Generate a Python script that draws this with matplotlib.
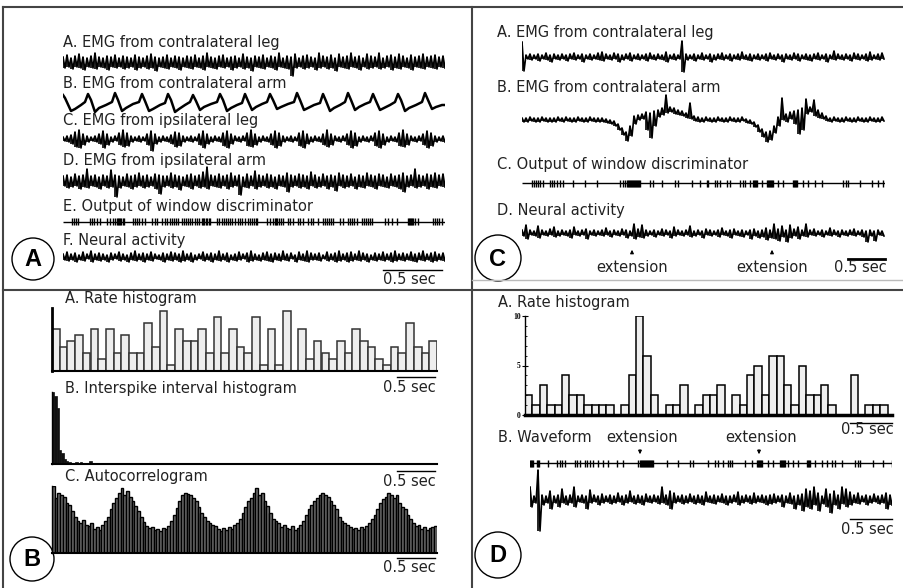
import numpy as np
import matplotlib.pyplot as plt
from matplotlib.patches import Circle

W, H = 904, 588

# ---------------- panel A : EMG traces (values in px, 4 px per sample) ----------------
legA_top = [5, 7, 4, 6, 8, 5, 4, 6, 9, 5,
            4, 6, 5, 7, 4, 6, 5, 4, 7, 5,
            4, 6, 8, 5, 4, 5, 7, 4, 6, 5,
            4, 6, 5, 7, 4, 6, 9, 5, 4, 6,
            7, 4, 5, 6, 4, 8, 5, 4, 6, 5,
            7, 4, 6, 5, 9, 4, 6, 5, 8, 4,
            6, 7, 5, 4, 9, 6, 5, 7, 4, 8,
            5, 6, 9, 5, 6, 4, 8, 6, 5, 9,
            4, 6, 7, 5, 8, 6, 4, 7, 5, 6,
            8, 5, 6, 7, 5, 6]
legA_bot = [-6, -5, -7, -5, -6, -8, -5, -6, -7, -5,
            -6, -8, -5, -6, -5, -7, -6, -5, -8, -6,
            -5, -7, -6, -9, -5, -6, -7, -5, -6, -8,
            -5, -6, -7, -5, -6, -8, -5, -6, -7, -5,
            -6, -5, -8, -6, -5, -7, -6, -9, -5, -6,
            -7, -5, -6, -8, -5, -6, -7, -14, -6, -5,
            -7, -6, -5, -8, -6, -5, -7, -6, -9, -5,
            -6, -7, -5, -6, -8, -5, -7, -6, -5, -7,
            -6, -5, -8, -6, -7, -5, -6, -8, -5, -6,
            -7, -5, -6, -7, -5, -6]

# contralateral arm: breakpoints (px from trace start, px above baseline)
armA_x = [0, 2, 8, 12, 18, 22, 25, 28, 32, 36, 43, 49, 52, 55, 59, 63, 70, 76,
          79, 82, 86, 90, 97, 102, 105, 108, 112, 116, 122, 127, 130, 133, 137, 141, 148, 154,
          157, 160, 164, 168, 174, 179, 182, 185, 189, 193, 199, 204, 207, 210, 214, 218, 225, 231,
          234, 237, 241, 245, 251, 257, 260, 263, 267, 271, 277, 282, 285, 288, 292, 296, 302, 307,
          310, 313, 317, 321, 327, 332, 335, 338, 342, 346, 353, 359, 362, 365, 369, 373, 379, 382]
armA_y = [8, 5, -8, -6, -2, 1, 9, 3, -9, -5, -2, 1, 10, 3, -8, -5, -1, 1,
          9, 2, -8, -6, -2, 0, 9, 3, -9, -6, -2, 1, 8, 2, -7, -4, -1, 1,
          9, 3, -8, -5, -2, 0, 9, 2, -7, -4, -1, 1, 9, 3, -6, -4, -1, 1,
          10, 3, -7, -5, -2, 0, 9, 2, -8, -5, -2, 1, 10, 3, -7, -4, -1, 1,
          9, 2, -7, -5, -2, 1, 9, 3, -8, -5, -2, 1, 10, 3, -6, -4, -2, -2]

ipsileg_top = [2, 3, 4, 7, 9, 5, 3, 2, 3, 5,
               8, 5, 2, 3, 6, 9, 6, 3, 2, 3,
               2, 5, 8, 5, 2, 3, 2, 4, 7, 6,
               3, 2, 3, 2, 5, 8, 5, 2, 3, 2,
               6, 8, 5, 3, 2, 3, 6, 9, 5, 2,
               3, 2, 5, 8, 6, 3, 2, 3, 2, 6,
               8, 5, 2, 3, 2, 5, 9, 5, 3, 2,
               3, 5, 8, 6, 2, 3, 2, 3, 6, 8,
               5, 2, 3, 2, 6, 9, 5, 3, 2, 3,
               5, 8, 6, 3, 2, 3]
ipsileg_bot = [-2, -3, -5, -8, -9, -6, -3, -2, -3, -5,
               -9, -6, -3, -2, -6, -8, -7, -3, -2, -3,
               -2, -6, -12, -5, -3, -2, -3, -5, -8, -7,
               -3, -2, -3, -2, -6, -9, -5, -3, -2, -3,
               -7, -9, -5, -2, -3, -2, -7, -8, -6, -3,
               -2, -3, -6, -9, -7, -3, -2, -3, -2, -7,
               -9, -5, -3, -2, -3, -6, -8, -6, -2, -3,
               -2, -6, -9, -7, -3, -2, -3, -2, -7, -9,
               -6, -3, -2, -3, -7, -8, -6, -2, -3, -2,
               -6, -9, -7, -3, -2, -3]

ipsiarm_top = [5, 6, 4, 7, 5, 6, 12, 5, 6, 4,
               6, 5, 11, 6, 5, 4, 7, 5, 6, 8,
               5, 6, 4, 7, 6, 5, 5, 8, 6, 5,
               4, 6, 7, 5, 6, 9, 14, 6, 5, 7,
               5, 6, 8, 5, 6, 4, 7, 5, 10, 6,
               5, 7, 6, 4, 6, 5, 8, 6, 5, 7,
               6, 5, 9, 6, 4, 7, 5, 6, 5, 8,
               6, 5, 7, 4, 6, 5, 8, 6, 5, 7,
               6, 4, 7, 5, 6, 8, 5, 6, 12, 6,
               5, 7, 6, 8, 6, 7]
ipsiarm_bot = [-5, -7, -6, -5, -8, -6, -7, -5, -6, -8,
               -5, -7, -6, -16, -7, -5, -6, -8, -6, -5,
               -7, -6, -5, -8, -13, -6, -5, -7, -6, -9,
               -5, -6, -8, -5, -7, -6, -8, -5, -6, -7,
               -5, -8, -6, -5, -14, -6, -7, -5, -8, -6,
               -5, -7, -6, -8, -5, -6, -11, -6, -5, -7,
               -6, -8, -5, -7, -6, -5, -8, -6, -10, -5,
               -7, -6, -5, -8, -6, -7, -5, -6, -8, -5,
               -6, -7, -5, -6, -8, -11, -6, -5, -7, -6,
               -5, -8, -6, -7, -5, -6]

neuralA_top = [3, 5, 3, 4, 2, 5, 3, 6, 3, 4,
               3, 2, 4, 3, 5, 3, 2, 4, 6, 3,
               4, 3, 5, 3, 2, 4, 3, 5, 4, 3,
               6, 3, 4, 2, 3, 5, 3, 4, 3, 6,
               3, 4, 2, 3, 5, 3, 4, 6, 3, 2,
               4, 5, 3, 4, 3, 6, 3, 4, 2, 5,
               3, 6, 4, 3, 4, 2, 5, 3, 4, 6,
               3, 4, 5, 3, 6, 4, 3, 2, 4, 3,
               5, 3, 4, 6, 3, 4, 3, 5, 3, 4,
               6, 3, 4, 5, 3, 4]
neuralA_bot = [-3, -4, -3, -5, -3, -4, -2, -5, -3, -4,
               -3, -5, -3, -2, -4, -3, -5, -3, -4, -3,
               -5, -3, -4, -2, -3, -5, -3, -4, -3, -5,
               -4, -3, -5, -3, -2, -4, -3, -5, -3, -4,
               -3, -5, -3, -4, -3, -2, -5, -4, -3, -4,
               -3, -4, -5, -3, -4, -3, -4, -2, -5, -3,
               -4, -5, -3, -3, -4, -2, -4, -3, -5, -4,
               -3, -5, -4, -3, -4, -3, -5, -3, -4, -3,
               -4, -3, -5, -4, -3, -4, -3, -4, -5, -3,
               -4, -3, -5, -4, -3, -4]

# window discriminator spikes (px from trace start)
spikesA = [9, 11, 13, 15, 27, 29, 31, 34, 37, 44, 47, 50, 52, 54, 55, 56, 57, 58, 60, 61,
           70, 72, 74, 76, 79, 82, 89, 92, 94, 99, 102, 104, 107, 109, 111, 113, 115,
           119, 121, 123, 125, 127, 129, 132, 134, 136, 139, 140, 141, 143, 144, 146, 147,
           154, 156, 159, 161, 163, 165, 167, 169, 172, 175, 177, 179, 182,
           185, 187, 189, 191, 193, 194, 204, 207, 210, 212, 213, 214, 216, 218, 220,
           225, 227, 230, 235, 237, 240, 245, 248, 250, 255, 260, 262, 264, 266, 268, 270,
           277, 280, 285, 287, 289, 291, 294, 299, 301, 303, 305, 307, 309, 322, 325, 329, 334,
           345, 346, 347, 348, 349, 350, 352, 355, 370, 372, 374, 376, 379]

# ---------------- panel C ----------------
legC_top = [15, 2, 3, 2, 3, 2, 4, 2, 3, 2,
            3, 2, 3, 4, 2, 3, 2, 3, 2, 4,
            5, 3, 2, 4, 3, 2, 3, 4, 2, 3,
            2, 3, 4, 2, 3, 2, 5, 2, 3, 2,
            16, 3, 2, 3, 2, 4, 2, 3, 2, 3,
            4, 2, 3, 2, 3, 5, 2, 3, 2, 3,
            2, 3, 4, 2, 3, 2, 3, 2, 4, 3,
            2, 3, 2, 3, 4, 2, 3, 2, 6, 3,
            2, 3, 2, 4, 3, 2, 3, 5, 2, 3,
            4]
legC_bot = [-14, -2, -3, -2, -4, -2, -3, -5, -2, -3,
            -2, -4, -2, -3, -2, -5, -2, -3, -2, -3,
            -4, -2, -3, -2, -5, -3, -2, -4, -2, -3,
            -2, -4, -2, -3, -2, -3, -5, -2, -3, -2,
            -15, -3, -2, -4, -2, -3, -2, -5, -3, -2,
            -3, -2, -4, -2, -3, -2, -3, -4, -2, -3,
            -2, -4, -2, -3, -2, -5, -2, -3, -2, -4,
            -2, -3, -4, -2, -3, -2, -5, -2, -3, -2,
            -3, -2, -4, -2, -3, -2, -4, -3, -2, -3,
            -2]

armC_top = [2, 2, 3, 2, 2, 3, 2, 2, 2, 3, 2, 3, 2, 2, 3, 2, 2, 3, 2, 2, 2,
            1, 0, -1, -4, -8, -12, -6, 4, 5, 6, 8, 7, 9, 10, 12, 25, 13, 12, 10, 9, 7, 17, 4, 3,
            2, 3, 2, 2, 3, 2, 2, 3, 2, 2, 3,
            1, 0, -2, -5, -9, -12, -11, -6, 3, 22, 6, 8, 9, 10, 12, 21, 13, 20, 10, 7, 4,
            2, 3, 2, 2, 3, 2, 2, 3, 2, 2, 3, 2, 2, 3]
armC_bot = [-2, -2, -1, -2, -2, -1, -2, -2, -2, -1, -2, -1, -2, -2, -1, -2, -2, -1, -2, -2, -2,
            -3, -4, -6, -10, -15, -21, -16, -4, 0, 1, -10, -18, -6, 3, 5, 7, 8, 6, 5, 4, 2, 1, -1, -2,
            -2, -1, -2, -2, -1, -2, -2, -1, -2, -2, -1,
            -3, -4, -7, -12, -17, -22, -20, -13, -6, 0, -2, 1, -4, -14, -10, 6, 8, 4, 2, 1, -1,
            -2, -1, -2, -2, -1, -2, -2, -1, -2, -2, -1, -2, -2, -1]

spikesC = [10, 12, 14, 16, 18, 21, 28, 30, 32, 35, 38, 41, 51, 63, 75, 98, 101, 103, 105,
           106, 107, 108, 109, 110, 111, 112, 113, 114, 115, 116, 117, 118, 128, 131, 140,
           153, 156, 170, 178, 185, 186, 193, 195, 198, 205, 208, 218, 221, 223, 228,
           231, 232, 233, 234, 235, 240, 245, 246, 247, 248, 249, 250, 251, 256, 261,
           271, 272, 273, 274, 275, 281, 286, 293, 300, 321, 324, 326, 338, 350, 356, 361]

neuralC_top = [3, 8, 3, 2, 7, 3, 2, 4, 6, 2,
               3, 2, 3, 6, 2, 3, 4, 2, 3, 2,
               3, 5, 2, 3, 2, 4, 3, 2, 9, 4,
               8, 3, 2, 3, 2, 4, 3, 2, 6, 3,
               2, 3, 7, 2, 3, 2, 4, 3, 2, 3,
               5, 2, 3, 4, 2, 3, 2, 3, 4, 2,
               3, 5, 3, 9, 4, 7, 3, 8, 4, 6,
               3, 9, 3, 4, 2, 3, 2, 5, 3, 2,
               3, 2, 3, 4, 2, 3, 2, 3, 2, 3,
               2]
neuralC_bot = [-3, -6, -2, -3, -5, -2, -3, -2, -4, -3,
               -2, -3, -5, -2, -3, -2, -6, -2, -3, -2,
               -3, -2, -4, -2, -3, -2, -5, -3, -6, -4,
               -5, -3, -2, -4, -2, -3, -2, -5, -3, -2,
               -3, -2, -4, -3, -2, -5, -2, -3, -2, -4,
               -2, -3, -5, -2, -3, -4, -2, -6, -3, -5,
               -4, -7, -5, -6, -8, -4, -9, -5, -3, -6,
               -3, -4, -2, -3, -2, -4, -2, -3, -2, -4,
               -2, -3, -2, -3, -2, -4, -9, -3, -8, -2,
               -3]

# ---------------- panel B : histograms ----------------
rate_B = [42, 24, 30, 36, 18, 42, 12, 42, 18, 36,
          18, 18, 48, 24, 60, 6, 42, 30, 30, 42,
          18, 54, 18, 42, 24, 18, 54, 6, 42, 6,
          60, 0, 42, 12, 30, 18, 12, 30, 18, 42,
          30, 24, 12, 6, 24, 18, 48, 24, 18, 30]
isi_B = [72, 68, 56, 14, 11, 5, 3, 2, 1, 1, 2, 1, 2, 1, 1, 1, 3, 1]
autocorr_B = [67, 55, 60, 58, 56, 50, 48,
              42, 36, 32, 30, 33, 28,
              27, 30, 24, 26, 23,
              28, 32, 36, 44, 50,
              55, 60, 65, 58, 62, 56,
              52, 47, 42, 36, 31,
              27, 25, 26, 23, 24, 22, 25, 24,
              27, 32, 38, 45, 52,
              58, 60, 59, 58, 55,
              52, 46, 40, 36, 32,
              30, 28, 27, 24, 22, 25, 23, 26, 24, 28,
              30, 34, 40, 46, 52,
              55, 60, 65, 58, 60,
              52, 47, 40, 34, 32,
              30, 26, 28, 25, 24, 27, 23, 25, 28,
              32, 38, 44, 48, 52,
              55, 58, 60, 58, 56,
              52, 48, 44, 36, 32,
              30, 28, 26, 24, 25, 23, 26, 24, 27, 30,
              34, 38, 44, 50, 54,
              56, 60, 58, 55, 58,
              50, 46, 44, 38, 34,
              30, 27, 28, 24, 26, 23, 25, 26, 27]

# ---------------- panel D ----------------
rate_D = [2, 1, 3, 1, 1, 4, 2, 2, 1, 1,
          1, 1, 0, 1, 4, 10, 6, 2, 0, 1,
          1, 3, 0, 1, 2, 2, 3, 0, 2, 1,
          4, 5, 2, 6, 6, 3, 1, 5, 2, 2,
          3, 1, 0, 0, 4, 0, 1, 1, 1]
spikesD = [0, 1, 2, 3, 7, 8, 9, 18, 27, 30, 32, 35, 45, 47, 50, 55, 57, 60, 63, 68, 73, 78,
           87, 93, 108, 110, 111, 112, 113, 114, 115, 116, 117, 118, 119, 120, 121, 122, 123,
           137, 148, 160, 163, 178, 185, 188, 193, 198, 200, 202, 215, 222,
           227, 228, 229, 230, 231, 232, 238, 243, 250, 251, 252, 253, 254, 255, 258, 263, 268,
           277, 278, 279, 280, 285, 292, 297, 302, 305, 312, 325, 328, 330, 343, 353, 362]
waveD_top = [12, 3, 29, 4, 3, 8, 3, 4, 10, 3,
             4, 12, 3, 4, 3, 9, 4, 3, 5, 3,
             4, 3, 6, 3, 4, 8, 3, 4, 3, 5,
             3, 4, 3, 12, 4, 8, 6, 3, 4, 3,
             5, 3, 4, 3, 7, 3, 4, 3, 5, 3,
             3, 4, 7, 3, 4, 3, 6, 3, 4, 3,
             4, 5, 3, 4, 3, 6, 3, 4, 5, 10,
             8, 12, 6, 3, 10, 5, 8, 4, 12, 10,
             7, 4, 6, 3, 4, 3, 5, 3, 4, 6,
             4]
waveD_bot = [-8, -4, -32, -6, -4, -10, -4, -8, -4, -6,
             -4, -8, -3, -4, -10, -4, -3, -6, -4, -3,
             -5, -4, -3, -6, -4, -3, -5, -4, -6, -3,
             -4, -3, -5, -4, -6, -10, -4, -3, -5, -4,
             -3, -5, -4, -6, -3, -4, -5, -3, -4, -6,
             -4, -3, -6, -4, -3, -5, -4, -3, -4, -6,
             -5, -4, -3, -8, -4, -5, -10, -6, -12, -8,
             -10, -6, -12, -5, -8, -14, -6, -10, -5, -8,
             -6, -4, -5, -3, -6, -4, -3, -5, -4, -10,
             -6]

TXT = dict(family='DejaVu Sans', fontsize=10.5, color='#222222')

fig = plt.figure(figsize=(W / 100, H / 100), dpi=100)
ax0 = fig.add_axes([0, 0, 1, 1])
ax0.set_xlim(0, W)
ax0.set_ylim(H, 0)
ax0.axis('off')


def px_axes(x0, y0, x1, y1):
    return fig.add_axes([x0 / W, 1 - y1 / H, (x1 - x0) / W, (y1 - y0) / H])


def trace_axes(x0, x1, yc, half):
    ax = px_axes(x0, yc - half, x1, yc + half)
    ax.set_xlim(0, x1 - x0)
    ax.set_ylim(-half, half)
    ax.axis('off')
    return ax


def draw_env(ax, top, bot, step=4, lw=1.2):
    xs = np.arange(len(top)) * step
    xx = np.column_stack([xs, xs + step / 2]).ravel()
    yy = np.column_stack([top, bot]).ravel()
    ax.plot(xx, yy, color='k', lw=lw)
    ax.vlines(xs, bot, top, color='k', lw=lw)


def draw_train(ax, events, length, h=3.5):
    ax.hlines(0, 0, length, color='k', lw=1)
    ax.vlines(events, -h, h, color='k', lw=1.0)


def scale_bar(x0, x1, y, tx, ty, lw=1.0):
    ax0.plot([x0, x1], [y, y], color='k', lw=lw)
    ax0.text(tx, ty, '0.5 sec', ha='center', va='center', **TXT)


def badge(x, y, r, letter):
    ax0.add_patch(Circle((x, y), r, fill=False, lw=1.0, ec='k'))
    ax0.text(x, y + 1, letter, ha='center', va='center', family='Liberation Sans',
             fontweight='bold', fontsize=17)


# frame lines
ax0.plot([3, W], [7, 7], color='#444444', lw=1.5)
ax0.plot([3, 3], [7, H], color='#444444', lw=1.5)
ax0.plot([472, 472], [7, H], color='#444444', lw=1.5)
ax0.plot([3, W], [289.5, 289.5], color='#444444', lw=1.5)
ax0.plot([472, W], [280, 280], color='#bbbbbb', lw=1.0)

# ---- panel A ----
for y, s in [(43, 'A. EMG from contralateral leg'), (84, 'B. EMG from contralateral arm'),
             (120, 'C. EMG from ipsilateral leg'), (160, 'D. EMG from ipsilateral arm'),
             (207, 'E. Output of window discriminator'), (241, 'F. Neural activity')]:
    ax0.text(63, y, s, ha='left', va='center', **TXT)

draw_env(trace_axes(63, 445, 62, 15), legA_top, legA_bot)
axb = trace_axes(63, 445, 103, 13)
axb.plot(armA_x, armA_y, color='k', lw=1.8)
draw_env(trace_axes(63, 445, 139, 13), ipsileg_top, ipsileg_bot)
draw_env(trace_axes(63, 445, 181, 17), ipsiarm_top, ipsiarm_bot)
draw_train(trace_axes(63, 445, 222, 5), spikesA, 382)
draw_env(trace_axes(63, 445, 257, 8), neuralA_top, neuralA_bot)
scale_bar(383, 442, 270, 409, 279)
badge(33, 259, 21, 'A')

# ---- panel C ----
for y, s in [(32, 'A. EMG from contralateral leg'), (88, 'B. EMG from contralateral arm'),
             (165, 'C. Output of window discriminator'), (210, 'D. Neural activity')]:
    ax0.text(497, y, s, ha='left', va='center', **TXT)
draw_env(trace_axes(522, 885, 57, 17), legC_top, legC_bot)
draw_env(trace_axes(522, 885, 120, 27), armC_top, armC_bot)
draw_train(trace_axes(522, 885, 183, 5), spikesC, 363)
draw_env(trace_axes(522, 885, 233, 14), neuralC_top, neuralC_bot)
for x in (632, 772):
    ax0.annotate('', xy=(x, 247), xytext=(x, 256),
                 arrowprops=dict(arrowstyle='-|>', lw=0.8, color='k', mutation_scale=5))
    ax0.text(x, 267, 'extension', ha='center', va='center', **TXT)
scale_bar(848, 885, 259, 860, 268, lw=2.0)
badge(498, 258, 23, 'C')

# ---- panel B ----
ax0.text(65, 299, 'A. Rate histogram', ha='left', va='center', **TXT)
ax0.text(65, 389, 'B. Interspike interval histogram', ha='left', va='center', **TXT)
ax0.text(65, 477, 'C. Autocorrelogram', ha='left', va='center', **TXT)

h1 = px_axes(52, 308, 437, 371)
h1.bar(np.arange(len(rate_B)), rate_B, width=1, align='edge', facecolor='#eeeeee',
       edgecolor='#333333', lw=1.1)
h1.set_xlim(0, len(rate_B))
h1.set_ylim(0, 63)

h2 = px_axes(52, 392, 437, 464)
h2.bar(np.arange(len(isi_B)), isi_B, width=1, align='edge', facecolor='#111111',
       edgecolor='#111111', lw=0.5)
h2.set_xlim(0, 165)
h2.set_ylim(0, 72)

h3 = px_axes(52, 486, 437, 553)
h3.bar(np.arange(len(autocorr_B)), autocorr_B, width=1, align='edge', facecolor='#6e6e6e',
       edgecolor='k', lw=1.0)
h3.set_xlim(0, len(autocorr_B))
h3.set_ylim(0, 67)

for h, lw_left in [(h1, 2.0), (h2, 1.0), (h3, 1.0)]:
    for side in ('top', 'right'):
        h.spines[side].set_visible(False)
    h.spines['left'].set_linewidth(lw_left)
    h.spines['bottom'].set_linewidth(1.5)
    h.set_xticks([])
    h.set_yticks([])
    h.patch.set_alpha(0)

scale_bar(397, 435, 377, 409, 387)
scale_bar(397, 435, 471, 409, 481)
scale_bar(397, 435, 558, 409, 567)
badge(32, 559, 22, 'B')

# ---- panel D ----
ax0.text(498, 302, 'A. Rate histogram', ha='left', va='center', **TXT)
hd = px_axes(525, 316, 892, 415)
hd.bar(np.arange(len(rate_D)), rate_D, width=1, align='edge', facecolor='#efefef',
       edgecolor='k', lw=1.1)
hd.set_xlim(0, 49.6)
hd.set_ylim(0, 10)
for side in ('top', 'right'):
    hd.spines[side].set_visible(False)
hd.spines['bottom'].set_linewidth(2.5)
hd.spines['left'].set_linewidth(1.0)
hd.set_xticks([])
hd.set_yticks([0, 5, 10])
hd.set_yticks(np.arange(0, 11), minor=True)
hd.tick_params(axis='y', which='major', direction='inout', length=4, width=0.8, pad=1,
               labelsize=5.5)
hd.tick_params(axis='y', which='minor', direction='in', length=1.5, width=0.6)
for lab in hd.get_yticklabels():
    lab.set_family('Liberation Serif')
    lab.set_fontweight('bold')
hd.patch.set_alpha(0)
scale_bar(850, 892, 423, 867, 430)

ax0.text(498, 437, 'B. Waveform', ha='left', va='center', **TXT)
for x in (640, 759):
    ax0.text(x + 2, 437, 'extension', ha='center', va='center', **TXT)
    ax0.annotate('', xy=(x, 457), xytext=(x, 447),
                 arrowprops=dict(arrowstyle='-|>', lw=0.8, color='k', mutation_scale=5))
draw_train(trace_axes(530, 892, 463, 5), spikesD, 362)
draw_env(trace_axes(530, 892, 499, 34), waveD_top, waveD_bot)
scale_bar(850, 892, 519, 867, 529)
badge(498, 555, 23, 'D')

fig.savefig('out.png', dpi=100)
